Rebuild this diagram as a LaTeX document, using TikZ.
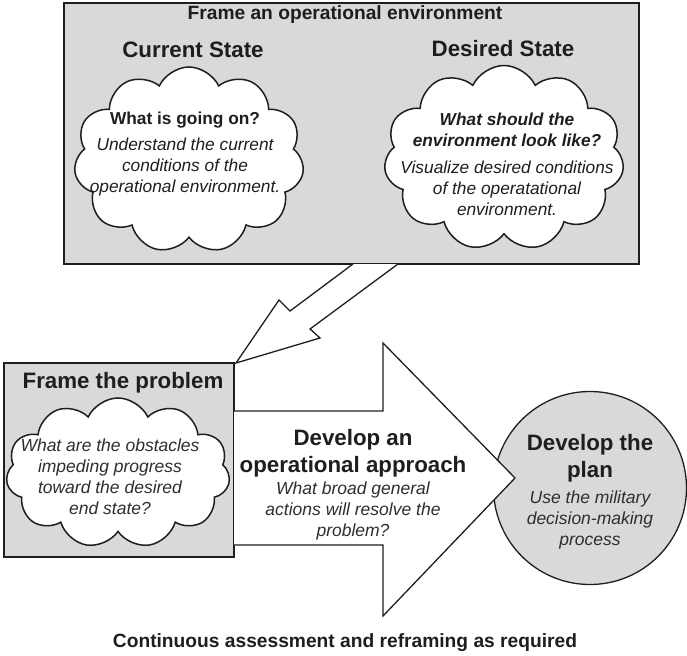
\documentclass[tikz,border=0pt]{standalone}
\usepackage{fontspec}
\setmainfont{Liberation Sans}
\usetikzlibrary{shapes.symbols}
\definecolor{boxgray}{HTML}{D9D9D9}
\definecolor{ink}{HTML}{1E1E1E}
\definecolor{itink}{HTML}{2E2E2E}
\begin{document}
\begin{tikzpicture}[x=1pt,y=-1pt,
  panel/.style={draw=ink, fill=boxgray, line width=1.4pt},
  cloudbox/.style={cloud, cloud puffs=11, cloud puff arc=130, cloud ignores aspect,
    draw=ink, fill=white, line width=1.5pt, inner sep=0pt},
  blockarrow/.style={draw=ink, fill=white, line width=1.3pt, line join=miter},
  title/.style={font=\fontsize{19.2}{23}\selectfont\bfseries, text=ink, inner sep=0pt},
  hd/.style={font=\fontsize{22.3}{27}\selectfont\bfseries, text=ink, align=center, inner sep=0pt},
  qtext/.style={font=\fontsize{17.3}{21}\selectfont, text=ink, align=center, inner sep=0pt},
  ittext/.style={font=\fontsize{17.5}{21}\selectfont\itshape, text=itink, align=center, inner sep=0pt}
]
\useasboundingbox (0,0) rectangle (687,655);

% top panel
\draw[panel] (64,3) rectangle (639,264);
\node[title] (ttl) at (345,15) {Frame an operational environment};
\node[hd] (cur) at (193,50) {Current State};
\node[hd] (des) at (503,49) {Desired State};

\node[cloudbox, minimum width=230pt, minimum height=186pt] (c1) at (189,160) {};
\node[cloudbox, minimum width=240pt, minimum height=185pt] (c2) at (504,158) {};

\node[qtext] (q1) at (185,154) {\bfseries What is going on?\\[5pt]
  \itshape Understand the current\\ \itshape conditions of the\\ \itshape operational environment.};
\node[qtext] (q2) at (507,164) {\bfseries\itshape What should the\\ \bfseries\itshape environment look like?\\[6pt]
  \itshape Visualize desired conditions\\ \itshape of the operatational\\ \itshape environment.};

% diagonal hollow arrow
\coordinate (d1) at (353,264);
\coordinate (d2) at (398,264);
\filldraw[blockarrow] (d1) -- (290,311) -- (279,300) -- (236,363) -- (320,338) -- (310,329) -- (d2);

% frame the problem
\draw[panel] (4,363) rectangle (234,557);
\node[hd] (ftp) at (123,383) {Frame the problem};
\node[cloudbox, minimum width=224pt, minimum height=150pt] (c3) at (118,473) {};
\node[ittext] (q3) at (110,477) {What are the obstacles\\ impeding progress\\ toward the desired\\ end state?};

% develop the plan
\node[circle, draw=ink, fill=boxgray, line width=1.3pt, minimum size=193pt, inner sep=0pt] (plan) at (590,488) {};

% big right arrow
\coordinate (a1) at (234,411);
\coordinate (a2) at (234,545);
\filldraw[blockarrow] (a1) -- (383,411) -- (383,343) -- (515,478) -- (383,616) -- (383,545) -- (a2);

\node[hd] (dev) at (353,453) {Develop an\\ operational approach};
\node[ittext] (devq) at (353,511) {What broad general\\ actions will resolve the\\ problem?};

\node[hd] (plant) at (590,458) {Develop the\\ plan};
\node[ittext] (planq) at (590,520) {Use the military\\ decision-making\\ process};

\node[title] (bot) at (345,643) {Continuous assessment and reframing as required};
\end{tikzpicture}
\end{document}
